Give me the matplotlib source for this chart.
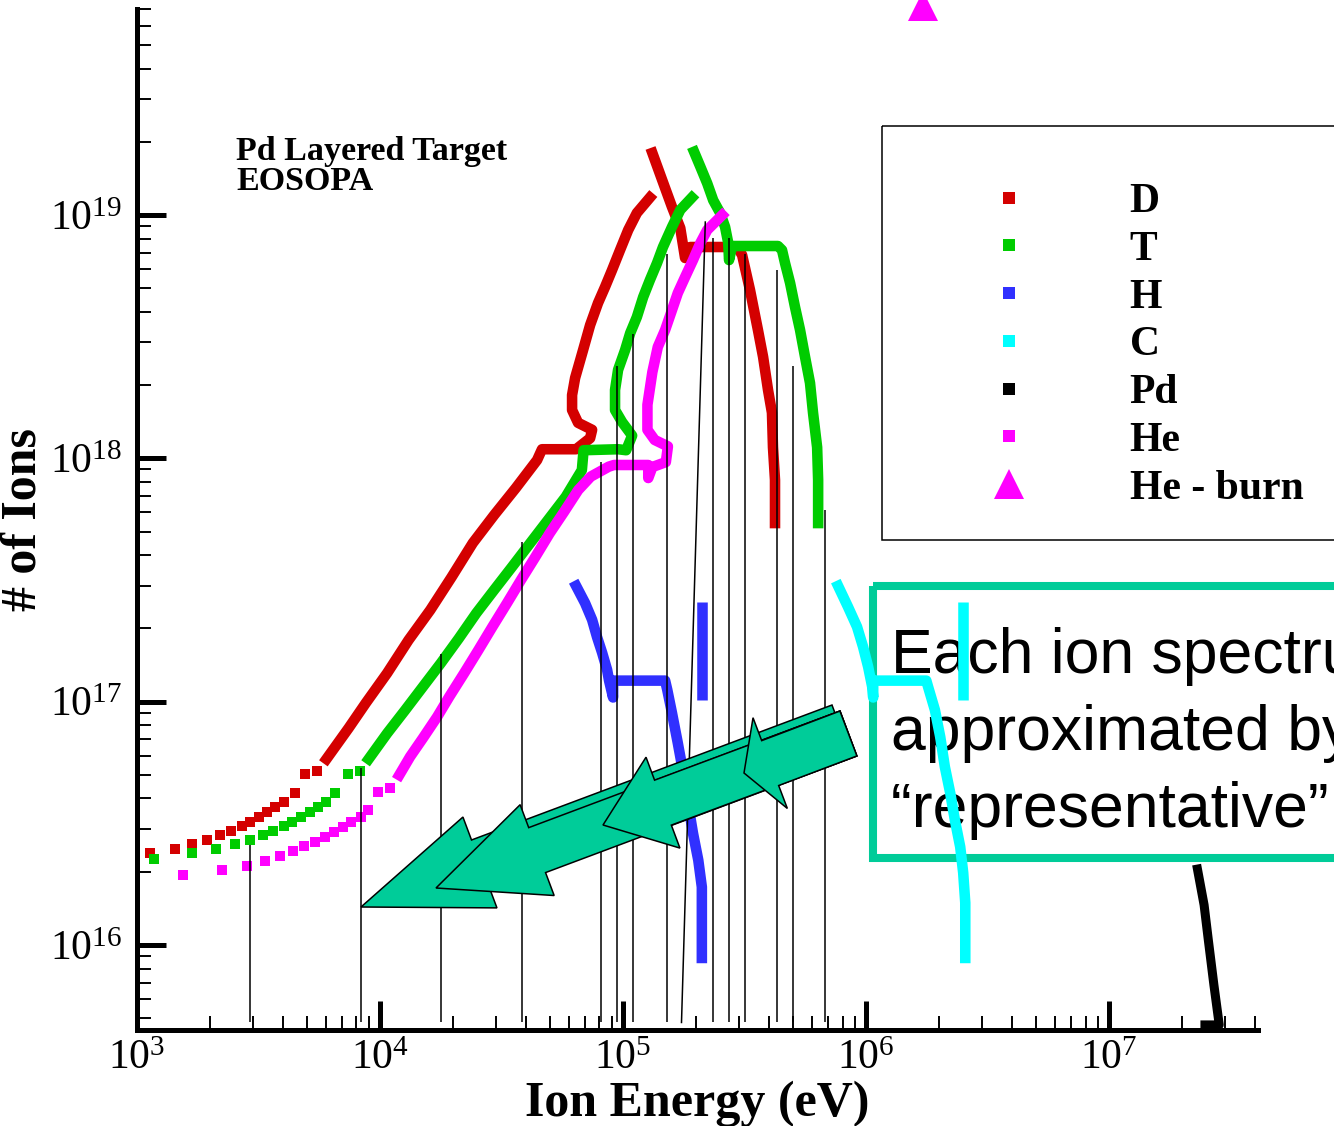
import matplotlib
matplotlib.use("Agg")
import numpy as np
import matplotlib.pyplot as plt
from matplotlib.lines import Line2D
from matplotlib.patches import FancyArrow, Rectangle
from matplotlib.transforms import Affine2D
from matplotlib.ticker import LogLocator, NullFormatter

plt.rcParams['font.family'] = ['Liberation Serif', 'DejaVu Serif']
plt.rcParams['mathtext.fontset'] = 'custom'
plt.rcParams['mathtext.rm'] = 'Liberation Serif'
plt.rcParams['mathtext.it'] = 'Liberation Serif:italic'
plt.rcParams['mathtext.bf'] = 'Liberation Serif:bold'

# ---- values: ion energy (eV) / number of ions ----
# D (red)
d_pts_e = [1.13e3, 1.43e3, 1.69e3, 1.95e3, 2.20e3, 2.44e3, 2.70e3, 2.93e3, 3.17e3,
           3.44e3, 3.68e3, 4.01e3, 4.47e3, 4.91e3, 5.51e3]
d_pts_n = [2.38e16, 2.48e16, 2.59e16, 2.70e16, 2.83e16, 2.95e16, 3.08e16, 3.21e16, 3.36e16,
           3.51e16, 3.68e16, 3.88e16, 4.20e16, 5.04e16, 5.18e16]
d_rise_e = [6.02e3, 7.43e3, 8.74e3, 1.07e4, 1.31e4, 1.61e4, 1.97e4, 2.41e4, 2.95e4, 3.62e4,
            4.43e4, 4.64e4, 6.41e4, 7.32e4, 7.46e4, 6.53e4, 6.17e4, 6.17e4, 6.35e4, 6.85e4,
            7.32e4, 7.89e4, 8.43e4, 9.01e4, 9.72e4, 1.05e5, 1.14e5, 1.29e5]
d_rise_n = [5.81e16, 7.79e16, 9.87e16, 1.31e17, 1.79e17, 2.38e17, 3.25e17, 4.49e17, 5.85e17, 7.55e17,
            9.84e17, 1.09e18, 1.09e18, 1.21e18, 1.31e18, 1.40e18, 1.58e18, 1.82e18, 2.14e18, 2.79e18,
            3.53e18, 4.35e18, 5.06e18, 5.94e18, 7.18e18, 8.68e18, 1.02e19, 1.18e19]
d_fall_e = [1.32e5, 1.45e5, 1.59e5, 1.72e5, 1.80e5, 1.89e5, 2.95e5, 3.09e5, 3.33e5, 3.59e5,
            3.77e5, 3.95e5, 4.10e5, 4.14e5, 4.22e5, 4.22e5]
d_fall_n = [1.80e19, 1.39e19, 1.08e19, 8.84e18, 6.66e18, 7.39e18, 7.39e18, 6.85e18, 4.92e18, 3.37e18,
            2.61e18, 1.91e18, 1.54e18, 1.11e18, 8.15e17, 5.42e17]

# T (green)
t_pts_e = [1.17e3, 1.69e3, 2.12e3, 2.54e3, 2.93e3, 3.30e3, 3.62e3, 4.01e3, 4.36e3, 4.75e3,
           5.17e3, 5.57e3, 6.02e3, 6.55e3, 7.38e3, 8.27e3]
t_pts_n = [2.26e16, 2.38e16, 2.48e16, 2.59e16, 2.70e16, 2.83e16, 2.95e16, 3.08e16, 3.21e16, 3.37e16,
           3.53e16, 3.70e16, 3.88e16, 4.20e16, 5.04e16, 5.18e16]
t_rise_e = [8.98e3, 1.07e4, 1.27e4, 1.50e4, 1.78e4, 2.11e4, 2.49e4, 2.95e4, 3.50e4, 4.14e4,
            4.91e4, 5.81e4, 6.77e4, 6.88e4, 9.54e4, 1.03e5, 1.09e5, 9.91e4, 9.27e4, 9.27e4,
            9.54e4, 1.02e5, 1.07e5, 1.14e5, 1.21e5, 1.29e5, 1.38e5, 1.46e5, 1.59e5, 1.72e5, 1.92e5]
t_rise_n = [5.81e16, 7.41e16, 9.24e16, 1.15e17, 1.44e17, 1.82e17, 2.31e17, 2.88e17, 3.59e17, 4.47e17,
            5.58e17, 6.95e17, 8.95e17, 1.08e18, 1.09e18, 1.08e18, 1.24e18, 1.41e18, 1.58e18, 1.91e18,
            2.31e18, 2.79e18, 3.27e18, 3.81e18, 4.60e18, 5.41e18, 6.35e18, 7.39e18, 8.93e18, 1.05e19, 1.18e19]
t_fall_e = [1.96e5, 2.08e5, 2.22e5, 2.35e5, 2.51e5, 2.63e5, 2.71e5, 2.73e5, 2.81e5, 4.34e5,
            4.51e5, 4.64e5, 4.87e5, 5.10e5, 5.35e5, 5.61e5, 5.88e5, 6.05e5, 6.29e5, 6.35e5, 6.35e5]
t_fall_n = [1.82e19, 1.58e19, 1.35e19, 1.15e19, 1.02e19, 8.93e18, 7.67e18, 6.53e18, 7.46e18, 7.46e18,
            7.18e18, 6.35e18, 5.25e18, 4.19e18, 3.37e18, 2.61e18, 2.04e18, 1.54e18, 1.11e18, 8.15e17, 5.42e17]

# He (magenta)
he_pts_e = [1.55e3, 2.24e3, 2.84e3, 3.36e3, 3.88e3, 4.39e3, 4.86e3, 5.38e3, 5.92e3, 6.44e3,
            7.06e3, 7.63e3, 8.35e3, 8.94e3, 9.81e3, 1.10e4]
he_pts_n = [1.93e16, 2.03e16, 2.11e16, 2.21e16, 2.32e16, 2.43e16, 2.55e16, 2.66e16, 2.78e16, 2.92e16,
            3.06e16, 3.21e16, 3.37e16, 3.59e16, 4.26e16, 4.42e16]
he_rise_e = [1.20e4, 1.33e4, 1.50e4, 1.72e4, 1.93e4, 2.22e4, 2.54e4, 2.90e4, 3.33e4, 3.80e4,
             4.36e4, 4.99e4, 5.72e4, 6.54e4, 7.36e4, 8.73e4, 9.18e4, 1.27e5, 1.27e5, 1.32e5,
             1.50e5, 1.53e5, 1.35e5, 1.26e5, 1.26e5, 1.32e5, 1.39e5, 1.49e5, 1.59e5, 1.68e5,
             1.80e5, 1.94e5, 2.08e5, 2.22e5, 2.56e5]
he_rise_n = [4.99e16, 5.94e16, 7.07e16, 8.67e16, 1.05e17, 1.31e17, 1.63e17, 2.03e17, 2.54e17, 3.16e17,
             3.94e17, 4.92e17, 6.03e17, 7.41e17, 8.41e17, 9.24e17, 9.39e17, 9.39e17, 8.30e17, 9.21e17,
             9.65e17, 1.12e18, 1.19e18, 1.31e18, 1.66e18, 2.26e18, 2.87e18, 3.37e18, 4.07e18, 4.78e18,
             5.56e18, 6.53e18, 7.67e18, 8.68e18, 1.00e19]
he_burn_e = [1.72e6]
he_burn_n = [7.2e19]

# H (blue)
h_e = [6.41e4, 6.98e4, 7.46e4, 7.82e4, 8.20e4, 8.60e4, 8.76e4, 9.10e4, 9.10e4, 1.49e5,
       1.52e5, 1.59e5, 1.68e5, 1.77e5, 1.85e5, 1.94e5, 2.04e5, 2.11e5, 2.11e5]
h_n = [2.99e17, 2.54e17, 2.17e17, 1.84e17, 1.59e17, 1.35e17, 1.22e17, 1.04e17, 1.22e17, 1.22e17,
       1.12e17, 8.98e16, 6.76e16, 5.09e16, 3.83e16, 2.88e16, 2.23e16, 1.73e16, 8.84e15]
h_bar_e = [2.11e5, 2.11e5]
h_bar_n = [2.57e17, 1.02e17]

# C (cyan)
c_e = [7.67e5, 8.43e5, 9.18e5, 9.72e5, 1.02e6, 1.06e6, 1.07e6, 1.07e6, 1.77e6, 1.80e6,
       1.92e6, 2.02e6, 2.11e6, 2.22e6, 2.32e6, 2.44e6, 2.51e6, 2.56e6, 2.56e6]
c_n = [2.99e17, 2.45e17, 2.03e17, 1.68e17, 1.39e17, 1.15e17, 1.04e17, 1.22e17, 1.22e17, 1.15e17,
       9.24e16, 7.15e16, 5.39e16, 4.21e16, 3.26e16, 2.53e16, 1.98e16, 1.49e16, 8.84e15]
c_bar_e = [2.51e6, 2.51e6]
c_bar_n = [2.57e17, 1.02e17]

# Pd (black)
pd_e = [2.91e3, 8.38e3, 1.79e4, 3.83e4, 8.12e4, 9.45e4, 1.10e5, 1.52e5, 2.35e5, 2.73e5,
        3.18e5, 4.30e5, 5.01e5, 6.78e5]
pd_top = [2.57e16, 5.33e16, 1.57e17, 4.53e17, 9.66e17, 2.39e18, 3.24e18, 6.92e18, 8.04e18, 8.04e18,
          6.92e18, 5.94e18, 2.39e18, 6.13e17]
pd_floor = 4.8e15
pd_slant_e = [1.74e5, 2.18e5]
pd_slant_n = [4.8e15, 9.36e18]
pd_hi_e = [2.48e7, 2.84e7, 2.70e7, 2.56e7, 2.46e7, 2.31e7]
pd_hi_n = [4.69e15, 4.69e15, 6.84e15, 1.05e16, 1.46e16, 2.05e16]

legend_labels = ['D', 'T', 'H', 'C', 'Pd', 'He', 'He - burn']
RED, GREEN, BLUE, CYAN, MAG = '#d40000', '#00cc00', '#3030ff', '#00ffff', '#ff00ff'
TEAL = '#00cc99'

W, H = 1334, 1126
fig = plt.figure(figsize=(W / 100, H / 100), dpi=100)
ax = fig.add_axes([137 / W, 1 - 1030 / H, 1121 / W, 1021 / H])
# pixel transform (origin top-left) for the annotation shapes
px = Affine2D().scale(1 / W, -1 / H).translate(0, 1) + fig.transFigure

LW = 7.6
MS = 7.4
ax.plot(d_pts_e, d_pts_n, 's', color=RED, ms=MS, mew=0)
ax.plot(d_rise_e, d_rise_n, '-', color=RED, lw=LW)
ax.plot(d_fall_e, d_fall_n, '-', color=RED, lw=LW)
ax.plot(t_pts_e, t_pts_n, 's', color=GREEN, ms=MS, mew=0)
ax.plot(t_rise_e, t_rise_n, '-', color=GREEN, lw=LW)
ax.plot(t_fall_e, t_fall_n, '-', color=GREEN, lw=LW)
ax.plot(he_pts_e, he_pts_n, 's', color=MAG, ms=MS, mew=0)
ax.plot(he_rise_e, he_rise_n, '-', color=MAG, lw=LW)
ax.plot(h_e, h_n, '-', color=BLUE, lw=LW)
ax.plot(h_bar_e, h_bar_n, '-', color=BLUE, lw=LW, solid_capstyle='butt')
ax.plot(c_e, c_n, '-', color=CYAN, lw=LW)
ax.plot(c_bar_e, c_bar_n, '-', color=CYAN, lw=LW, solid_capstyle='butt')
ax.vlines(pd_e, pd_floor, pd_top, color='black', lw=1.1, zorder=3)
ax.plot(pd_slant_e, pd_slant_n, '-', color='black', lw=1.1, zorder=3)
ax.plot(pd_hi_e, pd_hi_n, '-', color='black', lw=6.5, zorder=3)
ax.plot(he_burn_e, he_burn_n, '^', color=MAG, ms=22, mew=0, clip_on=False, zorder=4)

ax.set_xscale('log')
ax.set_yscale('log')
ax.set_xlim(1e3, 4.1e7)
ax.set_ylim(4.47e15, 7.03e19)

for a in (ax.xaxis, ax.yaxis):
    a.set_major_locator(LogLocator(base=10, numticks=20))
    a.set_minor_locator(LogLocator(base=10, subs=np.arange(2, 10), numticks=50))
    a.set_minor_formatter(NullFormatter())
ax.tick_params(which='major', direction='in', length=21, width=3.6, labelsize=30)
ax.tick_params(which='minor', direction='in', length=10, width=1.4)
ax.tick_params(axis='y', which='major', pad=11)
ax.tick_params(axis='x', which='major', pad=7)
for s in ('top', 'right'):
    ax.spines[s].set_visible(False)
for s in ('left', 'bottom'):
    ax.spines[s].set_linewidth(3.6)
ax.patch.set_alpha(0)

ax.set_xlabel('Ion Energy (eV)', fontsize=36, fontweight='bold', labelpad=2)
ax.set_ylabel('# of Ions', fontsize=36, fontweight='bold', labelpad=2)

ax.text(236, 160, 'Pd Layered Target', transform=px, fontsize=24.5, fontweight='bold', va='baseline')
ax.text(236, 190, 'EOSOPA', transform=px, fontsize=24.5, fontweight='bold', va='baseline')

# legend
handles = [Line2D([], [], ls='none', marker='s', ms=8, mew=0, color=c)
           for c in (RED, GREEN, BLUE, CYAN, 'black', MAG)]
handles.append(Line2D([], [], ls='none', marker='^', ms=22, mew=0, color=MAG))
ax.legend(handles, legend_labels, loc='upper left', bbox_to_anchor=(967 / W, 1 - 183 / H),
          bbox_transform=fig.transFigure, frameon=False, borderpad=0, borderaxespad=0,
          handlelength=2, handletextpad=1.9, labelspacing=0.23, numpoints=1,
          prop={'family': 'Liberation Serif', 'weight': 'bold', 'size': 30})
ax.add_patch(Rectangle((882, 126), 520, 414, transform=px, fill=False, ec='black',
                       lw=1.1, clip_on=False, zorder=6))

# note box
ax.add_patch(Rectangle((873, 586), 520, 271.5, transform=px, fill=False, ec=TEAL,
                       lw=5.8, clip_on=False, zorder=1.5))
for txt, yb in (('Each ion spectrum is', 673), ('approximated by a', 750),
                ('\u201crepresentative\u201d ion', 827)):
    ax.text(891, yb, txt, transform=px, fontsize=45, family='Liberation Sans',
            va='baseline', zorder=1.6, clip_on=False)

# arrows pointing down-left
arrows = [((840.4, 727.5), (361, 907), 127),
          ((848.4, 733.5), (436, 888), 108),
          ((848.4, 733.5), (603, 825), 64),
          ((848.4, 733.5), (744, 773), 28)]
for (x0, y0), (x1, y1), hl in arrows:
    ax.add_patch(FancyArrow(x0, y0, x1 - x0, y1 - y0, width=48, head_width=97,
                            head_length=hl, length_includes_head=True, transform=px,
                            fc=TEAL, ec='black', lw=1.1, clip_on=False, zorder=10))

fig.savefig('out.png', dpi=100)
